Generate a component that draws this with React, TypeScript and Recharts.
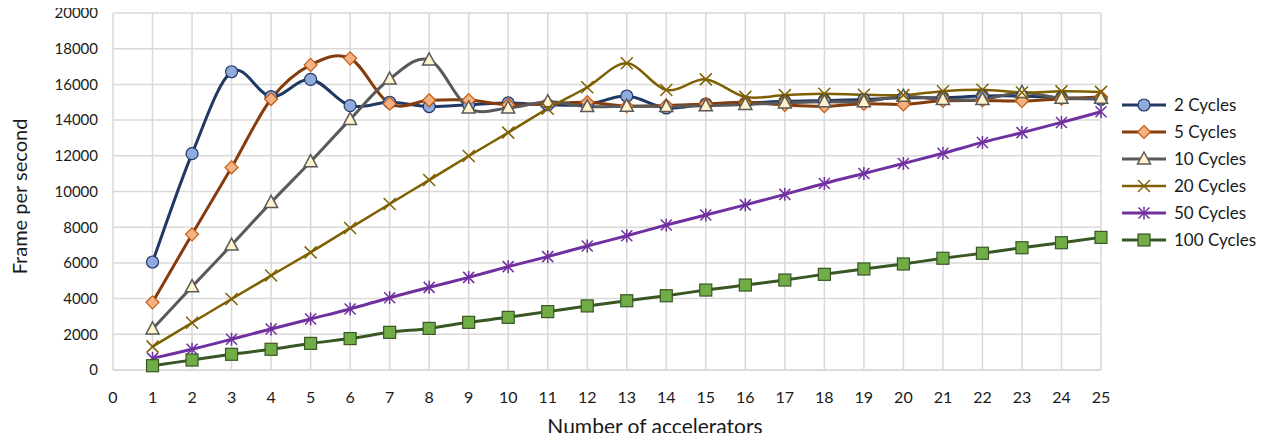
import React from "react";
import { CartesianGrid, Legend, Line, LineChart, XAxis, YAxis } from "recharts";

const accelerators = [1, 2, 3, 4, 5, 6, 7, 8, 9, 10, 11, 12, 13, 14, 15, 16, 17, 18, 19, 20, 21, 22, 23, 24, 25];

const cycles2 = [6050, 12120, 16710, 15310, 16280, 14810, 15000, 14760, 14860, 14960, 14860, 14870, 15350, 14680, 14900, 14950, 15050, 15100, 15150, 15250, 15250, 15350, 15350, 15250, 15170];
const cycles5 = [3790, 7600, 11350, 15180, 17090, 17460, 14920, 15110, 15120, 14860, 14920, 15000, 14780, 14820, 14900, 15000, 14850, 14780, 14920, 14880, 15080, 15100, 15070, 15200, 15300];
const cycles10 = [2300, 4670, 7000, 9390, 11670, 14040, 16300, 17370, 14680, 14680, 15030, 14760, 14780, 14760, 14800, 14880, 14960, 15030, 15030, 15330, 15160, 15160, 15550, 15220, 15220];
const cycles20 = [1310, 2650, 3980, 5290, 6590, 7950, 9300, 10640, 11990, 13300, 14640, 15840, 17180, 15690, 16280, 15300, 15400, 15480, 15420, 15400, 15620, 15700, 15550, 15610, 15580];
const cycles50 = [650, 1160, 1720, 2300, 2860, 3420, 4050, 4630, 5190, 5790, 6350, 6950, 7520, 8120, 8680, 9250, 9840, 10450, 11010, 11570, 12140, 12750, 13300, 13870, 14470];
const cycles100 = [240, 560, 880, 1160, 1490, 1760, 2110, 2330, 2670, 2950, 3270, 3590, 3880, 4160, 4480, 4760, 5040, 5360, 5660, 5940, 6260, 6540, 6850, 7130, 7430];

const xTicks = [0, 1, 2, 3, 4, 5, 6, 7, 8, 9, 10, 11, 12, 13, 14, 15, 16, 17, 18, 19, 20, 21, 22, 23, 24, 25];
const yTicks = [0, 2000, 4000, 6000, 8000, 10000, 12000, 14000, 16000, 18000, 20000];

const data = accelerators.map((n, i) => ({
  n,
  c2: cycles2[i],
  c5: cycles5[i],
  c10: cycles10[i],
  c20: cycles20[i],
  c50: cycles50[i],
  c100: cycles100[i],
}));

const FONT = "Lato, 'Open Sans', sans-serif";
const INK = "#1a1a1a";

type MarkerKind = "circle" | "diamond" | "triangle" | "x" | "star" | "square";

// spreadsheet-style smoothing: Catmull-Rom segments drawn as cubic beziers
const smoothCurve = (context: any) => {
  let pts: number[][] = [];
  return {
    areaStart() {},
    areaEnd() {},
    lineStart() {
      pts = [];
    },
    point(x: number, y: number) {
      pts.push([+x, +y]);
    },
    lineEnd() {
      if (!pts.length) return;
      context.moveTo(pts[0][0], pts[0][1]);
      for (let i = 0; i < pts.length - 1; i++) {
        const p0 = pts[Math.max(i - 1, 0)];
        const p1 = pts[i];
        const p2 = pts[i + 1];
        const p3 = pts[Math.min(i + 2, pts.length - 1)];
        context.bezierCurveTo(
          p1[0] + (p2[0] - p0[0]) / 6,
          p1[1] + (p2[1] - p0[1]) / 6,
          p2[0] - (p3[0] - p1[0]) / 6,
          p2[1] - (p3[1] - p1[1]) / 6,
          p2[0],
          p2[1]
        );
      }
    },
  };
};

function Marker({ kind, x, y, fill, stroke }: { kind: MarkerKind; x: number; y: number; fill: string; stroke: string }) {
  switch (kind) {
    case "circle":
      return <circle cx={x} cy={y} r={6} fill={fill} stroke={stroke} strokeWidth={1.2} />;
    case "diamond":
      return <polygon points={`${x},${y - 6.5} ${x + 6.5},${y} ${x},${y + 6.5} ${x - 6.5},${y}`} fill={fill} stroke={stroke} strokeWidth={1.2} />;
    case "triangle":
      return <polygon points={`${x},${y - 7} ${x + 6.5},${y + 5} ${x - 6.5},${y + 5}`} fill={fill} stroke={stroke} strokeWidth={1.5} />;
    case "x":
      return (
        <g stroke={stroke} strokeWidth={1.5}>
          <line x1={x - 6} y1={y - 6} x2={x + 6} y2={y + 6} />
          <line x1={x - 6} y1={y + 6} x2={x + 6} y2={y - 6} />
        </g>
      );
    case "star":
      return (
        <g stroke={stroke} strokeWidth={1.5}>
          <line x1={x - 5.5} y1={y - 5.5} x2={x + 5.5} y2={y + 5.5} />
          <line x1={x - 5.5} y1={y + 5.5} x2={x + 5.5} y2={y - 5.5} />
          <line x1={x} y1={y - 6.5} x2={x} y2={y + 6.5} />
        </g>
      );
    default:
      return <rect x={x - 6} y={y - 6} width={12} height={12} fill={fill} stroke={stroke} strokeWidth={1.2} />;
  }
}

const series: Array<{ key: string; name: string; color: string; width: number; marker: MarkerKind; fill: string; edge: string }> = [
  { key: "c2", name: "2 Cycles", color: "#203864", width: 3, marker: "circle", fill: "#8FAADC", edge: "#203864" },
  { key: "c5", name: "5 Cycles", color: "#843C0C", width: 3, marker: "diamond", fill: "#F4B183", edge: "#C55A11" },
  { key: "c10", name: "10 Cycles", color: "#595959", width: 3, marker: "triangle", fill: "#FFF2CC", edge: "#595959" },
  { key: "c20", name: "20 Cycles", color: "#7F6000", width: 2.5, marker: "x", fill: "none", edge: "#7F6000" },
  { key: "c50", name: "50 Cycles", color: "#7030A0", width: 3, marker: "star", fill: "none", edge: "#7030A0" },
  { key: "c100", name: "100 Cycles", color: "#385723", width: 3, marker: "square", fill: "#70AD47", edge: "#385723" },
];

function LegendBox() {
  return (
    <div style={{ fontFamily: FONT, fontSize: 17, color: INK }}>
      {series.map((s) => (
        <div key={s.key} style={{ display: "flex", alignItems: "center", height: 27 }}>
          <svg width={50} height={20} style={{ marginRight: 4 }}>
            <line x1={2} y1={10} x2={46} y2={10} stroke={s.color} strokeWidth={s.width} />
            <Marker kind={s.marker} x={24} y={10} fill={s.fill} stroke={s.edge} />
          </svg>
          <span>{s.name}</span>
        </div>
      ))}
    </div>
  );
}

export default function App() {
  return (
    <div style={{ margin: -8, width: 1271, height: 441, background: "#fff" }}>
      <LineChart width={1271} height={441} data={data} margin={{ top: 13, right: 170, bottom: 0, left: 0 }}>
        <CartesianGrid stroke="#D9D9D9" strokeWidth={1.5} />
        <XAxis
          dataKey="n"
          type="number"
          domain={[0, 25]}
          ticks={xTicks}
          interval={0}
          height={71}
          tickLine={false}
          tickSize={6}
          tickMargin={16}
          axisLine={{ stroke: "#D9D9D9", strokeWidth: 1.5 }}
          tick={{ fill: INK, fontSize: 16, fontFamily: FONT }}
          label={{ value: "Number of accelerators", position: "insideBottom", offset: 7, dx: 48, fill: INK, fontSize: 21, fontFamily: FONT }}
        />
        <YAxis
          type="number"
          domain={[0, 20000]}
          ticks={yTicks}
          interval={0}
          width={113}
          tickLine={false}
          tickSize={6}
          tickMargin={9}
          axisLine={false}
          tick={{ fill: INK, fontSize: 15, fontFamily: FONT }}
          label={{
            value: "Frame per second",
            angle: -90,
            position: "insideLeft",
            offset: 20,
            dy: 5,
            fill: INK,
            fontSize: 20,
            fontFamily: FONT,
            style: { textAnchor: "middle" },
          }}
        />
        <Legend
          layout="vertical"
          align="center"
          verticalAlign="middle"
          content={() => <LegendBox />}
          wrapperStyle={{ left: 1120, top: 91, width: 151 }}
        />
        {series.map((s) => (
          <Line
            key={s.key}
            dataKey={s.key}
            name={s.name}
            type={smoothCurve as any}
            stroke={s.color}
            strokeWidth={s.width}
            isAnimationActive={false}
            activeDot={false}
            dot={(p: any) => <Marker key={`${s.key}-${p.index}`} kind={s.marker} x={p.cx} y={p.cy} fill={s.fill} stroke={s.edge} />}
          />
        ))}
      </LineChart>
    </div>
  );
}
